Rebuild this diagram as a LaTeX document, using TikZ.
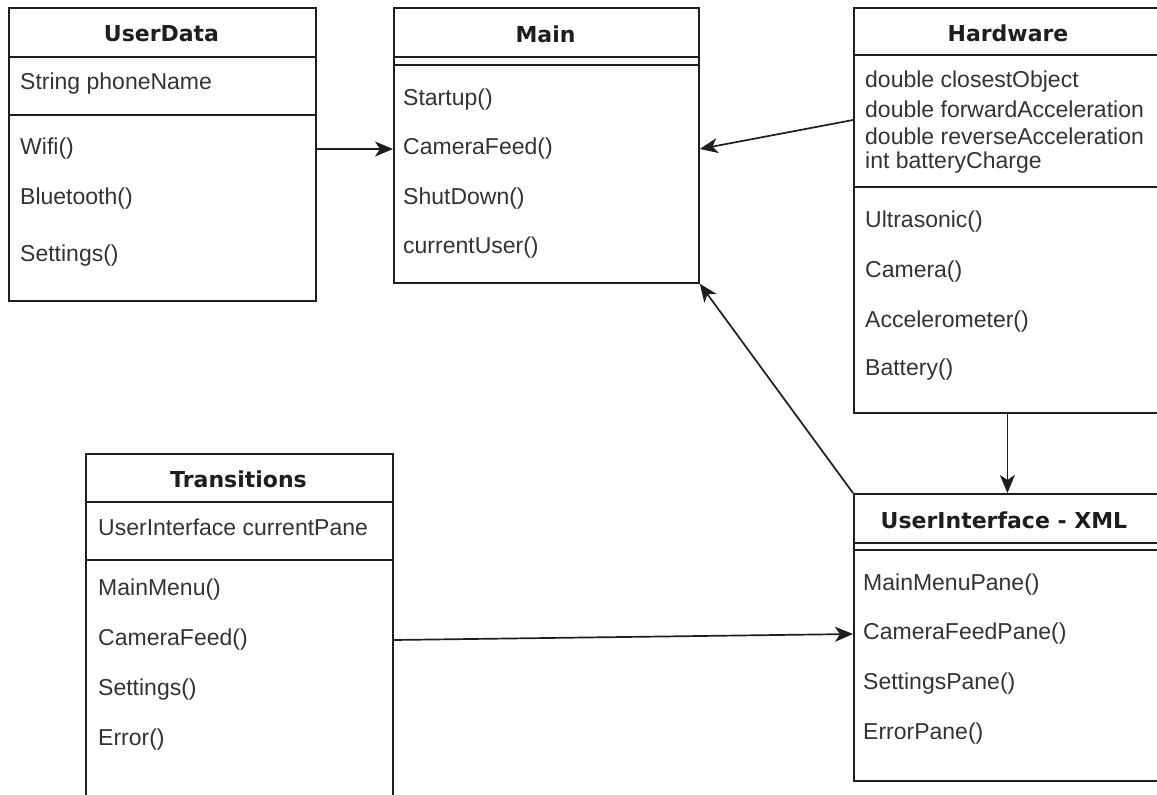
\documentclass[tikz,border=0pt]{standalone}
\usepackage{fontspec}
\setmainfont{Liberation Sans}
\newfontfamily\hdrfont{DejaVu Sans}
\usetikzlibrary{arrows.meta,calc}
\definecolor{ink}{HTML}{1E1E1E}
\definecolor{txtc}{HTML}{333333}
\tikzset{
  box/.style={draw=ink, line width=1.8pt, anchor=north west, inner sep=0pt},
  sepline/.style={draw=ink, line width=1.7pt},
  title/.style={font=\hdrfont\bfseries\fontsize{22}{26}\selectfont, text=ink, inner sep=0pt},
  item/.style={font=\fontsize{23}{27}\selectfont, text=txtc, anchor=west, inner sep=0pt},
  arr/.style={draw=ink, line width=1.7pt, -{Stealth[length=18pt,width=15pt,inset=5pt]}},
}
\begin{document}
\begin{tikzpicture}[x=1pt,y=-1pt]
\useasboundingbox (0,0) rectangle (1157,795);
\clip (0,0) rectangle (1157,795);
\fill[white] (0,0) rectangle (1157,795);

% UserData
\node[box, minimum width=307pt, minimum height=293pt] (ud) at (8,7) {};
\draw[sepline] (8,57) -- (315,57);
\draw[sepline] (8,115) -- (315,115);
\node[title] (udt) at (161.5,34) {UserData};
\node[item] (udname) at (20,84) {String phoneName};
\node[item] (udwifi) at (20,149) {Wifi()};
\node[item] (udbt) at (20,199) {Bluetooth()};
\node[item] (udset) at (20,256) {Settings()};

% Main
\node[box, minimum width=305pt, minimum height=275pt] (main) at (393,7) {};
\draw[sepline] (393,57) -- (698,57);
\draw[sepline] (393,65) -- (698,65);
\node[title] (mt) at (545.5,34) {Main};
\node[item] (mst) at (403,100) {Startup()};
\node[item] (mcf) at (403,149) {CameraFeed()};
\node[item] (msd) at (403,199) {ShutDown()};
\node[item] (mcu) at (403,248) {currentUser()};

% Hardware
\node[box, minimum width=307pt, minimum height=405pt] (hw) at (853,7) {};
\draw[sepline] (853,55) -- (1160,55);
\draw[sepline] (853,187) -- (1160,187);
\node[title] (hwt) at (1008,33) {Hardware};
\node[item] (hwa1) at (865,82) {double closestObject};
\node[item] (hwa2) at (865,109) {double forwardAcceleration};
\node[item] (hwa3) at (865,136) {double reverseAcceleration};
\node[item] (hwa4) at (865,163) {int batteryCharge};
\node[item] (hwu) at (865,222) {Ultrasonic()};
\node[item] (hwc) at (865,272) {Camera()};
\node[item] (hwac) at (865,322) {Accelerometer()};
\node[item] (hwb) at (865,370) {Battery()};

% Transitions
\node[box, minimum width=307pt, minimum height=360pt] (tr) at (85,453) {};
\draw[sepline] (85,502) -- (392,502);
\draw[sepline] (85,560) -- (392,560);
\node[title] (trt) at (238.5,479) {Transitions};
\node[item] (trcp) at (98,527) {UserInterface currentPane};
\node[item] (trmm) at (98,590) {MainMenu()};
\node[item] (trcf) at (98,640) {CameraFeed()};
\node[item] (trset) at (98,690) {Settings()};
\node[item] (trerr) at (98,740) {Error()};

% UserInterface
\node[box, minimum width=307pt, minimum height=287pt] (ui) at (853,493) {};
\draw[sepline] (853,543) -- (1160,543);
\draw[sepline] (853,550) -- (1160,550);
\node[title] (uit) at (1004,520) {UserInterface - XML};
\node[item] (uimm) at (863,585) {MainMenuPane()};
\node[item] (uicf) at (863,634) {CameraFeedPane()};
\node[item] (uiset) at (863,684) {SettingsPane()};
\node[item] (uierr) at (863,734) {ErrorPane()};

% connectors
\draw[arr] (udwifi -| ud.east) -- (mcf -| main.west);
\draw[arr] ($(hw.north west)+(0,113)$) -- (mcf -| main.east);
\draw[arr] (ui.north west) -- (main.south east);
\draw[arr] (hw.south) -- (ui.north);
\draw[arr] (trcf -| tr.east) -- (uicf -| ui.west);
\end{tikzpicture}
\end{document}
